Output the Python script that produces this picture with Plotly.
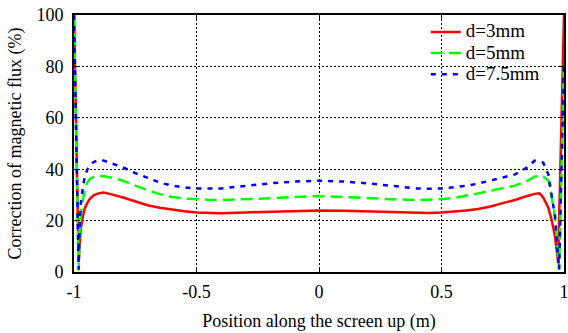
import plotly.graph_objects as go

x_left = [-1.0, -0.996, -0.993, -0.989, -0.985, -0.981, -0.977, -0.972, -0.963, -0.955,
          -0.945, -0.935, -0.92, -0.9, -0.88, -0.85, -0.8, -0.75, -0.7, -0.65, -0.6,
          -0.55, -0.5, -0.45, -0.4, -0.3, -0.2, -0.1, 0.0]
x_right = [0.1, 0.2, 0.3, 0.4, 0.45, 0.5, 0.55, 0.6, 0.65, 0.7, 0.75, 0.8, 0.85, 0.88,
           0.9, 0.915, 0.936, 0.949, 0.963, 0.971, 0.976, 0.98, 0.985, 0.99, 0.995, 1.0]
x_vals = x_left + x_right

red_3mm = [100, 80, 60, 40, 20, 4, 11, 17, 22, 25, 27, 28.5, 29.8, 30.6, 30.9, 30.3, 29.0,
           27.5, 26.0, 25.0, 24.2, 23.6, 23.2, 23.0, 22.9, 23.2, 23.5, 23.8, 23.9,
           23.8, 23.5, 23.2, 22.9, 23.0, 23.2, 23.5, 23.9, 24.5, 25.5, 26.8, 28.0, 29.6, 30.4,
           30.6, 29.0, 25.0, 20.5, 14.0, 8.0, 3.8, 20, 40, 60, 82, 100]
green_5mm = [100, 80, 60, 40, 20, 0.5, 15, 22, 28.5, 32.5, 35.0, 36.2, 37.0, 37.4, 37.3,
             36.8, 35.5, 33.6, 31.8, 30.3, 29.2, 28.6, 28.3, 28.1, 28.0, 28.3, 28.7, 29.2, 29.6,
             29.2, 28.7, 28.3, 28.0, 28.1, 28.3, 28.8, 29.6, 30.6, 31.6, 32.6, 33.6, 35.5, 37.1,
             37.4, 37.2, 35.5, 29.6, 21.8, 11.5, 4.0, 1.0, 20, 40, 60, 82, 100]
blue_7_5mm = [100, 80, 60, 40, 20, 1.0, 19, 27, 33.5, 37.5, 40.0, 41.5, 42.8, 43.5, 43.4,
              42.5, 40.7, 38.5, 36.5, 34.8, 33.6, 32.9, 32.5, 32.4, 32.5, 33.5, 34.5, 35.2, 35.5,
              35.2, 34.5, 33.5, 32.5, 32.4, 32.5, 33.0, 33.5, 34.4, 35.5, 36.8, 38.0, 40.7, 43.3,
              43.0, 42.6, 38.0, 29.6, 21.8, 11.5, 4.0, 1.0, 20, 40, 60, 82, 100]

series_names = ["d=3mm", "d=5mm", "d=7.5mm"]
x_ticks = [-1, -0.5, 0, 0.5, 1]
x_tick_text = ["-1", "-0.5", "0", "0.5", "1"]
y_ticks = [0, 20, 40, 60, 80, 100]

FONT = "Liberation Serif, Times New Roman, Times, serif"

fig = go.Figure()
styles = [
    dict(color="#ff0000", width=2.5, dash="solid"),
    dict(color="#00ff00", width=2.5, dash="12px,6px"),
    dict(color="#0000ff", width=2.5, dash="5px,6px"),
]
for name, ys, st in zip(series_names, [red_3mm, green_5mm, blue_7_5mm], styles):
    fig.add_trace(go.Scatter(
        x=x_vals, y=ys, mode="lines", line=st,
        name='<span style="font-size:19px">' + name + "</span>",
    ))

axis_common = dict(
    showline=True, linecolor="black", linewidth=2, mirror="allticks",
    ticks="inside", ticklen=5, tickcolor="black",
    showgrid=True, gridcolor="black", gridwidth=1, griddash="2px,2px",
    zeroline=False, automargin=False, ticklabeloverflow="allow",
    tickfont=dict(family=FONT, size=18, color="black"),
)

fig.update_layout(
    width=568, height=333,
    margin=dict(l=74, r=4, t=15, b=61),
    paper_bgcolor="white", plot_bgcolor="white",
    font=dict(family=FONT, color="black"),
    showlegend=True,
    legend=dict(
        x=0.718, y=0.995, xanchor="left", yanchor="top",
        bgcolor="rgba(0,0,0,0)", borderwidth=0,
        font=dict(family=FONT, size=14, color="black"),
        tracegroupgap=0, itemwidth=30,
    ),
    xaxis=dict(
        range=[-1, 1], tickvals=x_ticks, ticktext=x_tick_text,
        ticklabelstandoff=2,
        title=dict(text="Position along the screen up (m)",
                   font=dict(family=FONT, size=18, color="black"), standoff=14),
        **axis_common,
    ),
    yaxis=dict(
        range=[0, 100], tickvals=y_ticks,
        ticklabelstandoff=5,
        title=dict(text="Correction of magnetic flux (%)",
                   font=dict(family=FONT, size=18, color="black"), standoff=10),
        **axis_common,
    ),
)

fig.write_html("out.html", config={"displayModeBar": False},
               post_script="document.body.style.margin='0px';")
